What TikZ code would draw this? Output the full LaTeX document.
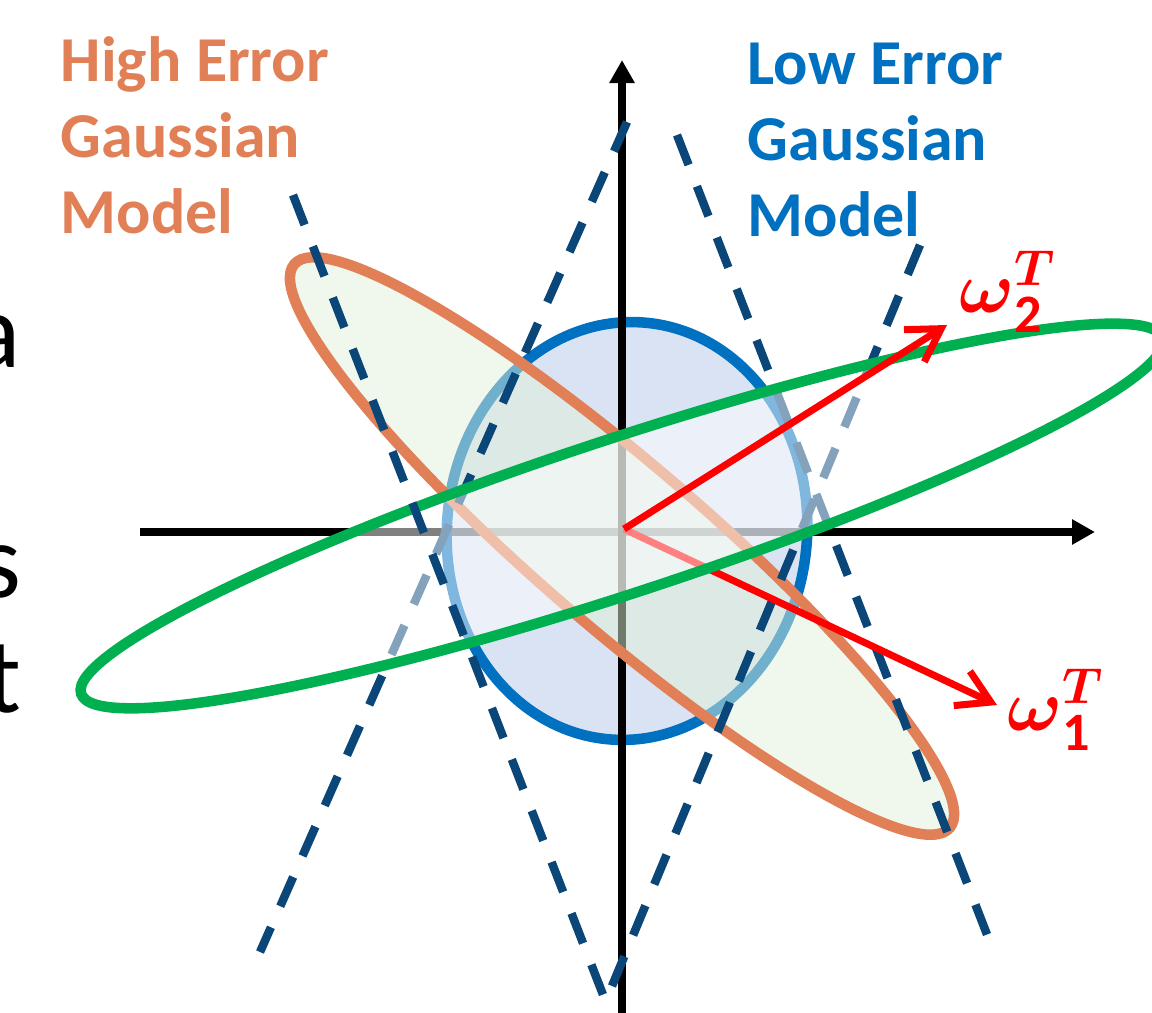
\documentclass[tikz,border=0pt]{standalone}
\usepackage{amsmath}
\usepackage{fontspec}
\setmainfont{Carlito}
\usepackage{tikz}
\usetikzlibrary{arrows.meta}
\definecolor{higherr}{RGB}{225,127,86}
\definecolor{lowerr}{RGB}{0,112,192}
\definecolor{projblue}{RGB}{10,70,120}
\definecolor{wideg}{RGB}{0,176,80}
\definecolor{bluefill}{RGB}{180,199,231}
\definecolor{palegreen}{RGB}{226,240,217}

\begin{document}
\begin{tikzpicture}[x=0.01cm, y=-0.01cm,
    every node/.style={inner sep=0pt},
    lbl/.style={font=\bfseries\fontsize{18.2}{21.5}\selectfont, align=left, anchor=base west},
    cut/.style={font=\fontsize{30.4}{36}\selectfont, anchor=base east},
    axis/.style={-{Triangle[length=2.3mm, width=2.4mm]}, line width=2.1pt},
    proj/.style={draw=projblue, line width=2.4pt, dash pattern=on 3.2mm off 2.3mm},
    wvec/.style={-{Straight Barb[length=3.2mm, width=3.8mm]}, draw=red, line width=2pt},
    wlbl/.style={text=red, font=\fontsize{22}{26}\selectfont},
    gauss/.style={line width=3pt}
  ]
    \useasboundingbox (0,0) rectangle (1152,1012);
    \clip (0,0) rectangle (1152,1012);

    \coordinate (o)  at (624,529);
    \coordinate (xl) at (140,532);
    \coordinate (xr) at (1095,532);
    \coordinate (yb) at (622,1020);
    \coordinate (yt) at (622,60);
    \coordinate (bc) at (627,531);
    \coordinate (oc) at (622,546);
    \coordinate (gc) at (622,516);
    \coordinate (w1) at (997,705);
    \coordinate (w2) at (947,325);

    \coordinate (p1a) at (293,195);  \coordinate (p1b) at (607,1005);
    \coordinate (p2a) at (627,122);  \coordinate (p2b) at (260,952);
    \coordinate (p3a) at (677,135);  \coordinate (p3b) at (993,950);
    \coordinate (p4a) at (920,245);  \coordinate (p4b) at (607,998);

    \draw[axis] (xl) -- (xr);
    \draw[gauss, draw=lowerr, fill=bluefill, fill opacity=0.5, rotate around={-5:(bc)}]
      (bc) ellipse [x radius=1.8cm, y radius=2.09cm];
    \draw[axis] (yb) -- (yt);
    \draw[gauss, draw=higherr, fill=palegreen, fill opacity=0.5, rotate around={-40.7:(oc)}]
      (oc) ellipse [x radius=4.32cm, y radius=0.82cm];

    \draw[proj] (p2a) -- (p2b);
    \draw[proj] (p3a) -- (p3b);
    \draw[proj] (p4a) -- (p4b);

    \draw[wvec] (o) -- (w1);
    \draw[gauss, draw=wideg, fill=white, fill opacity=0.5, rotate around={18.2:(gc)}]
      (gc) ellipse [x radius=5.69cm, y radius=0.77cm];
    \draw[proj] (p1a) -- (p1b);
    \draw[wvec] (o) -- (w2);

    \node[lbl, text=higherr] (hi) at (60,233) {High Error\\Gaussian\\Model};
    \node[lbl, text=lowerr]  (lo) at (747,236) {Low Error\\Gaussian\\Model};

    \node[cut] (ca) at (21,367) {a};
    \node[cut] (cs) at (22,597) {s};
    \node[cut] (ct) at (22,712) {t};

    \node[wlbl] (l2) at (1008,292) {$\boldsymbol{\omega}_{\mathbf{2}}^{\boldsymbol{T}}$};
    \node[wlbl] (l1) at (1056,710) {$\boldsymbol{\omega}_{\mathbf{1}}^{\boldsymbol{T}}$};
  \end{tikzpicture}
\end{document}
